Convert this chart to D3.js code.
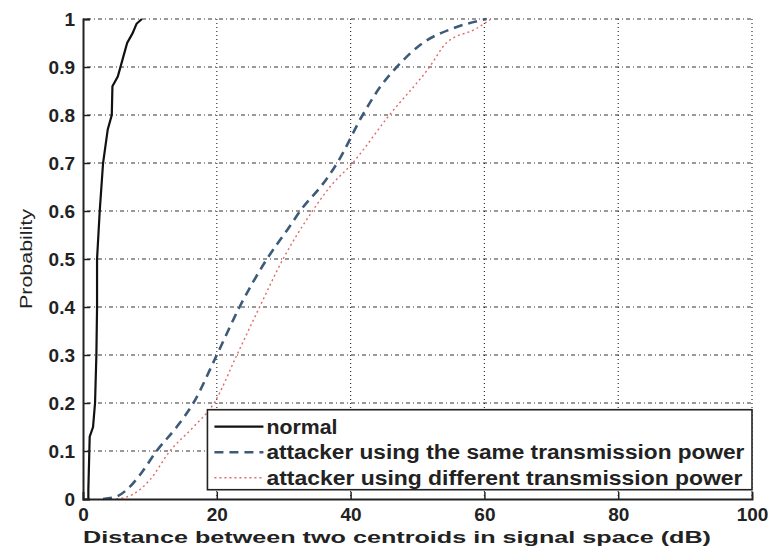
<!DOCTYPE html>
<html>
<head>
<meta charset="utf-8">
<script src="https://cdn.jsdelivr.net/npm/d3@7"></script>
<style>
  body { margin: 0; background: #fff; }
  svg text { font-family: "Liberation Sans", Arial, sans-serif; }
</style>
</head>
<body>
<svg width="775" height="548"></svg>
<script>
// CDF curves: [distance dB, probability]
const normal = [
  [0.8, 0], [0.8, 0.02], [1.0, 0.13], [1.5, 0.15], [1.8, 0.2], [2.0, 0.3],
  [2.1, 0.4], [2.1, 0.5], [2.5, 0.6], [3.0, 0.7], [3.7, 0.77], [4.3, 0.8],
  [4.4, 0.86], [5.2, 0.88], [6.0, 0.92], [6.6, 0.95], [7.4, 0.97], [8.0, 0.99], [8.8, 1.0]
];
const samePower = [
  [3, 0], [5, 0.005], [6.6, 0.02], [8.5, 0.05], [11, 0.1], [14, 0.15], [16.5, 0.2],
  [20, 0.3], [23.4, 0.4], [27.5, 0.5], [30.5, 0.56], [33, 0.61], [35.5, 0.65], [38, 0.7],
  [41.8, 0.8], [44.5, 0.86], [46.9, 0.9], [50.8, 0.95], [55.2, 0.98], [60.3, 1.0]
];
const diffPower = [
  [5, 0], [7.5, 0.01], [10, 0.04], [13, 0.1], [16.5, 0.15], [19.6, 0.2], [23, 0.3],
  [26.4, 0.4], [29.9, 0.5], [34.3, 0.6], [36.9, 0.65], [40.3, 0.7], [45.8, 0.8],
  [51.8, 0.9], [54.3, 0.95], [58.8, 0.98], [61, 1.0]
];
const xTicks = [0, 20, 40, 60, 80, 100];
const yTicks = [0, 0.1, 0.2, 0.3, 0.4, 0.5, 0.6, 0.7, 0.8, 0.9, 1];
const legendLabels = [
  "normal",
  "attacker using the same transmission power",
  "attacker using different transmission power"
];

const svg = d3.select("svg");
const margin = { top: 19, right: 23, bottom: 49, left: 83 };
const width = +svg.attr("width") - margin.left - margin.right;
const height = +svg.attr("height") - margin.top - margin.bottom;

const x = d3.scaleLinear().domain([0, 100]).range([0, width]);
const y = d3.scaleLinear().domain([0, 1]).range([height, 0]);

const g = svg.append("g").attr("transform", `translate(${margin.left},${margin.top})`);

// grid (matlab style dotted)
g.append("g").selectAll("line").data(xTicks.slice(1)).join("line")
  .attr("x1", d => x(d)).attr("x2", d => x(d)).attr("y1", 0).attr("y2", height)
  .attr("stroke", "#333").attr("stroke-width", 1.2).attr("stroke-dasharray", "1,3");
g.append("g").selectAll("line").data(yTicks.slice(1)).join("line")
  .attr("y1", d => y(d)).attr("y2", d => y(d)).attr("x1", 0).attr("x2", width)
  .attr("stroke", "#333").attr("stroke-width", 1.2).attr("stroke-dasharray", "1,3,4,3");

const line = d3.line().x(d => x(d[0])).y(d => y(d[1]));
const curve = d3.line().x(d => x(d[0])).y(d => y(d[1])).curve(d3.curveMonotoneX);

const series = [
  { data: normal, color: "#111", width: 2.2, dash: null, gen: line },
  { data: samePower, color: "#3d5a78", width: 2.6, dash: "9,6", gen: curve },
  { data: diffPower, color: "#e06a6a", width: 1.4, dash: "2,3", gen: curve }
];
// draw normal last so it sits on top
series.slice(1).concat(series[0]).forEach(s => {
  g.append("path").datum(s.data)
    .attr("d", s.gen)
    .attr("fill", "none")
    .attr("stroke", s.color)
    .attr("stroke-width", s.width)
    .attr("stroke-dasharray", s.dash);
});

// axes, ticks inside
const xAxis = g.append("g").attr("transform", `translate(0,${height})`)
  .call(d3.axisBottom(x).tickValues(xTicks).tickSize(-7).tickPadding(9).tickFormat(d3.format("d")));
const yAxis = g.append("g")
  .call(d3.axisLeft(y).tickValues(yTicks).tickSize(-7).tickPadding(8).tickFormat(d => d === 0 || d === 1 ? d : d3.format(".1f")(d)));
[xAxis, yAxis].forEach(a => {
  a.select(".domain").attr("stroke", "#222").attr("stroke-width", 2);
  a.selectAll(".tick line").attr("stroke", "#222").attr("stroke-width", 1.5);
  a.selectAll(".tick text").attr("font-size", 19).attr("font-weight", "bold").attr("fill", "#222");
});
xAxis.selectAll(".tick").filter(d => d === 0 || d === 100).select("line").remove();

// legend
const lg = g.append("g").attr("transform", `translate(${x(18.6)},${y(0.186)})`);
const lgW = width - x(18.6), lgH = 80;
const textLens = [71, 478, 476];
lg.append("rect").attr("width", lgW).attr("height", lgH)
  .attr("fill", "#fff").attr("stroke", "#222").attr("stroke-width", 1.6);
const legendRows = lg.selectAll("g.row").data(series).join("g")
  .attr("class", "row")
  .attr("transform", (d, i) => `translate(0,${17 + i * 25.5})`);
legendRows.append("line")
  .attr("x1", 7).attr("x2", 56).attr("y1", 0).attr("y2", 0)
  .attr("stroke", d => d.color).attr("stroke-width", d => d.width)
  .attr("stroke-dasharray", d => d.dash);
legendRows.append("text")
  .attr("x", 59).attr("y", 7)
  .attr("font-size", 20).attr("font-weight", "bold").attr("fill", "#222")
  .attr("textLength", (d, i) => textLens[i]).attr("lengthAdjust", "spacingAndGlyphs")
  .text((d, i) => legendLabels[i]);

// axis titles
svg.append("text")
  .attr("x", 83).attr("y", 543)
  .attr("font-size", 17).attr("font-weight", "bold").attr("fill", "#222")
  .attr("textLength", 628).attr("lengthAdjust", "spacingAndGlyphs")
  .text("Distance between two centroids in signal space (dB)");
svg.append("text")
  .attr("transform", `translate(32,${margin.top + height / 2}) rotate(-90)`)
  .attr("x", -50)
  .attr("font-size", 17).attr("fill", "#222")
  .attr("textLength", 100).attr("lengthAdjust", "spacingAndGlyphs")
  .text("Probability");
</script>
</body>
</html>
